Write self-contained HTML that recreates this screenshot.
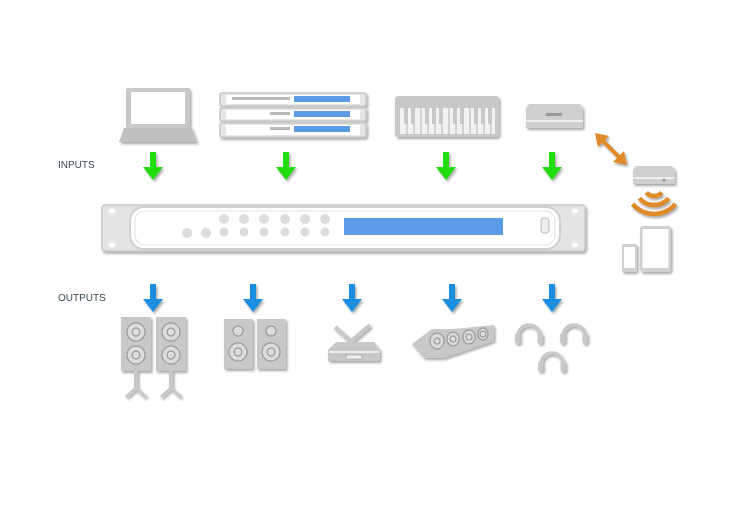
<!DOCTYPE html>
<html><head><meta charset="utf-8"><style>
html,body{margin:0;padding:0;background:#fff;width:730px;height:510px;overflow:hidden}
svg{display:block}
text{font-family:"Liberation Sans",sans-serif;font-size:10px;fill:#3a4a50}
</style></head><body>
<svg width="730" height="510" viewBox="0 0 730 510" xmlns="http://www.w3.org/2000/svg">
<defs>
<filter id="sh" x="-20%" y="-20%" width="150%" height="150%"><feDropShadow dx="1.5" dy="2" stdDeviation="1.2" flood-color="#000" flood-opacity="0.35"/></filter>
<g id="ga"><path d="M-3,0 h6 v15 h7 l-10,13 l-10,-13 h7z" fill="#22dd11"/></g>
<g id="ba"><path d="M-3,0 h6 v15 h7 l-10,13 l-10,-13 h7z" fill="#1a8ee0"/></g>
<g id="hp"><path d="M-11,8 v-3 a11,11 0 0 1 22,0 v3" fill="none" stroke="#c8c8c8" stroke-width="3.5"/><rect x="-14" y="2" width="5.5" height="11" rx="2.5" fill="#c8c8c8"/><rect x="8.5" y="2" width="5.5" height="11" rx="2.5" fill="#c8c8c8"/></g>
</defs>
<text x="58" y="168">INPUTS</text>
<text x="58" y="301">OUTPUTS</text>

<g filter="url(#sh)">
<rect x="126" y="88" width="64" height="40" rx="2" fill="#c8c8c8"/>
<rect x="131" y="92" width="54" height="32" fill="#fff"/>
<path d="M124,128 h68 l5,14 h-78z" fill="#c0c0c0"/>
<g fill="#e6e6e6" stroke="#c8c8c8" stroke-width="1.5">
<rect x="220" y="93" width="146" height="13" rx="2"/>
<rect x="220" y="108" width="146" height="13" rx="2"/>
<rect x="220" y="123" width="146" height="14" rx="2"/>
</g>
<g fill="#fff"><rect x="226" y="95" width="134" height="9"/><rect x="226" y="110" width="134" height="9"/><rect x="226" y="125" width="134" height="10"/></g>
<g fill="#5b9be6"><rect x="294" y="96" width="56" height="6"/><rect x="294" y="111" width="56" height="6"/><rect x="294" y="126" width="56" height="6"/></g>
<g fill="#bbb"><rect x="232" y="97" width="58" height="3"/><rect x="270" y="112" width="20" height="3"/><rect x="270" y="127" width="20" height="3"/></g>
<rect x="395" y="96" width="104" height="41" rx="3" fill="#c8c8c8"/>
<rect x="400" y="108" width="95" height="26" fill="#f2f2f2"/>
<g stroke="#c8c8c8" stroke-width="1.5">
<line x1="407" y1="108" x2="407" y2="134"/><line x1="414" y1="108" x2="414" y2="134"/><line x1="421" y1="108" x2="421" y2="134"/><line x1="428" y1="108" x2="428" y2="134"/><line x1="435" y1="108" x2="435" y2="134"/><line x1="442" y1="108" x2="442" y2="134"/><line x1="449" y1="108" x2="449" y2="134"/><line x1="456" y1="108" x2="456" y2="134"/><line x1="463" y1="108" x2="463" y2="134"/><line x1="470" y1="108" x2="470" y2="134"/><line x1="477" y1="108" x2="477" y2="134"/><line x1="484" y1="108" x2="484" y2="134"/><line x1="491" y1="108" x2="491" y2="134"/>
</g>
<g fill="#c8c8c8"><rect x="404" y="108" width="4" height="16"/><rect x="411" y="108" width="4" height="16"/><rect x="425" y="108" width="4" height="16"/><rect x="432" y="108" width="4" height="16"/><rect x="439" y="108" width="4" height="16"/><rect x="453" y="108" width="4" height="16"/><rect x="460" y="108" width="4" height="16"/><rect x="474" y="108" width="4" height="16"/><rect x="481" y="108" width="4" height="16"/><rect x="488" y="108" width="4" height="16"/></g>
<path d="M529,104 h51 l3,4 v20 h-57 v-20z" fill="#cfcfcf"/>
<rect x="526" y="120" width="57" height="2" fill="#eee"/>
<rect x="546" y="113" width="16" height="3" fill="#999"/>
<path d="M636,166 h36 l3,4 v14 h-42 v-14z" fill="#cfcfcf"/>
<rect x="633" y="177" width="42" height="2" fill="#eee"/>
<circle cx="664" cy="180" r="1.5" fill="#999"/>
<g fill="none" stroke="#e08a2a" stroke-width="4.5" transform="translate(0,4)">
<path d="M646.3,188.4 A10,10 0 0 0 661.7,188.4"/>
<path d="M639.4,194.2 A19,19 0 0 0 668.6,194.2"/>
<path d="M632.6,200 A28,28 0 0 0 675.4,200"/>
</g>
<rect x="640" y="226" width="31" height="46" rx="3" fill="#d0d0d0"/>
<rect x="642.5" y="229" width="26" height="39" fill="#fff"/>
<rect x="622" y="244" width="15" height="28" rx="2" fill="#d0d0d0"/>
<rect x="624" y="247" width="11" height="21" fill="#fff"/>
<g fill="#e08a2a"><line x1="602" y1="140" x2="620" y2="158" stroke="#e08a2a" stroke-width="4"/>
<path d="M595,133 l14,3 l-11,11z"/><path d="M627,165 l-14,-3 l11,-11z"/></g>

<rect x="102" y="205" width="483" height="46" rx="3" fill="#e4e4e4" stroke="#c8c8c8" stroke-width="1.5"/>
<rect x="130" y="207" width="430" height="42" rx="14" fill="#fff" stroke="#cfcfcf" stroke-width="2"/>
<rect x="135" y="211" width="420" height="34" rx="10" fill="none" stroke="#e0e0e0" stroke-width="1"/>
<g fill="#fff"><ellipse cx="112" cy="211" rx="3.5" ry="2.5"/><ellipse cx="112" cy="245" rx="3.5" ry="2.5"/><ellipse cx="575" cy="211" rx="3.5" ry="2.5"/><ellipse cx="575" cy="245" rx="3.5" ry="2.5"/></g>
<g fill="#dcdcdc">
<circle cx="187" cy="233" r="5"/><circle cx="206" cy="233" r="5"/>
<circle cx="224" cy="219" r="5"/><circle cx="244" cy="219" r="5"/><circle cx="264" cy="219" r="5"/><circle cx="285" cy="219" r="5"/><circle cx="305" cy="219" r="5"/><circle cx="325" cy="219" r="5"/>
<circle cx="224" cy="232" r="4.5"/><circle cx="244" cy="232" r="4.5"/><circle cx="264" cy="232" r="4.5"/><circle cx="285" cy="232" r="4.5"/><circle cx="305" cy="232" r="4.5"/><circle cx="325" cy="232" r="4.5"/>
</g>
<rect x="344" y="218" width="159" height="17" fill="#5b9be6"/>
<rect x="541" y="218" width="8" height="15" rx="3" fill="#eee" stroke="#bbb"/>
</g>

<g filter="url(#sh)">
<use href="#ga" x="153" y="152"/><use href="#ga" x="286" y="152"/><use href="#ga" x="446" y="152"/><use href="#ga" x="552" y="152"/>
<use href="#ba" x="153" y="284"/><use href="#ba" x="253" y="284"/><use href="#ba" x="352" y="284"/><use href="#ba" x="452" y="284"/><use href="#ba" x="552" y="284"/>
</g>

<g filter="url(#sh)">
<g fill="#c8c8c8"><rect x="121" y="317" width="30" height="54"/><rect x="156" y="317" width="30" height="54"/>
<rect x="134" y="371" width="4" height="17"/><rect x="169" y="371" width="4" height="17"/></g>
<g fill="none" stroke="#c8c8c8" stroke-width="3"><path d="M126,397 l10,-9 l10,9"/><path d="M161,397 l10,-9 l10,9"/></g>
<g fill="#dcdcdc" stroke="#999" stroke-width="1.2">
<circle cx="136" cy="332" r="9"/><circle cx="136" cy="355" r="9"/><circle cx="171" cy="332" r="9"/><circle cx="171" cy="355" r="9"/>
<circle cx="136" cy="332" r="4"/><circle cx="136" cy="355" r="4"/><circle cx="171" cy="332" r="4"/><circle cx="171" cy="355" r="4"/>
</g>
<g fill="#c8c8c8"><rect x="224" y="319" width="29" height="50"/><rect x="257" y="319" width="29" height="50"/></g>
<g fill="#dcdcdc" stroke="#999" stroke-width="1.2">
<circle cx="238" cy="331" r="5"/><circle cx="271" cy="331" r="5"/><circle cx="238" cy="352" r="9"/><circle cx="271" cy="352" r="9"/>
<circle cx="238" cy="352" r="4"/><circle cx="271" cy="352" r="4"/>
</g>
<g stroke="#c8c8c8" stroke-width="4"><line x1="335" y1="327" x2="352" y2="342"/><line x1="370" y1="325" x2="350" y2="342"/></g>
<path d="M336,342 h38 l6,8 v11 h-52 v-11z" fill="#c8c8c8"/>
<rect x="329" y="351" width="50" height="2" fill="#eee"/>
<rect x="346" y="355" width="16" height="4" fill="#eee" stroke="#aaa" stroke-width="0.8"/>
<path d="M412,344 l20,-15 h22 l40,-4 l0,16 l-50,17 h-20z" fill="#c8c8c8"/>
<g fill="#dcdcdc" stroke="#999" stroke-width="1.2">
<ellipse cx="437" cy="341" rx="7" ry="8"/><ellipse cx="453" cy="339" rx="6" ry="7"/><ellipse cx="469" cy="337" rx="6" ry="7"/><ellipse cx="483" cy="334" rx="5" ry="6"/>
<circle cx="437" cy="341" r="3"/><circle cx="453" cy="339" r="3"/><circle cx="469" cy="337" r="3"/><circle cx="483" cy="334" r="3"/>
</g>
<use href="#hp" x="529" y="331"/><use href="#hp" x="574" y="331"/><use href="#hp" x="552" y="359"/>
</g>
</svg>
</body></html>
